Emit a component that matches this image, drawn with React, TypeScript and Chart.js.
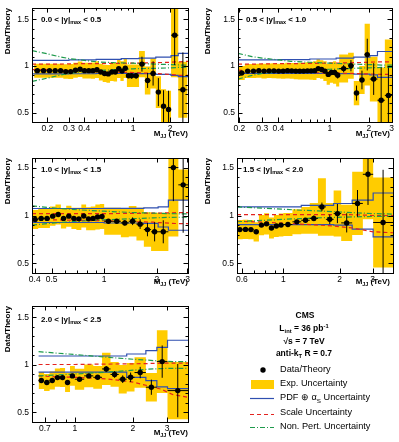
import React, { useEffect, useRef } from 'react';
import { Chart, registerables } from 'chart.js';
Chart.register(...registerables);

const FONT = "'Liberation Sans', Arial, Helvetica, sans-serif";
const YELLOW = '#ffcc00';
const BLUE = '#2f4fb0';
const RED = '#e3231f';
const GREEN = '#1e9a4c';

// ---------- shared axis ticks ----------
const yTickValues = [0.4, 0.5, 0.6, 0.7, 0.8, 0.9, 1.0, 1.1, 1.2, 1.3, 1.4, 1.5, 1.6];
const yTickLabels = ['', '0.5', '', '', '', '', '1', '', '', '', '', '1.5', ''];

// rapidity bins
const rapLo = ['0.0', '0.5', '1.0', '1.5', '2.0'];
const rapHi = ['0.5', '1.0', '1.5', '2.0', '2.5'];

// ---------- panel 1 : 0.0 < |y|max < 0.5 ----------
const xTicks1 = [0.2, 0.3, 0.4, 0.5, 0.6, 0.7, 0.8, 0.9, 1, 2];
const xLabels1 = ['0.2', '0.3', '0.4', '', '', '', '', '', '1', '2'];
const edges1 = [0.156, 0.176, 0.197, 0.22, 0.244, 0.27, 0.296, 0.325, 0.354, 0.386, 0.419, 0.453, 0.489, 0.526, 0.565, 0.606, 0.649, 0.693, 0.74, 0.788, 0.838, 0.89, 0.944, 1.0, 1.118, 1.246, 1.383, 1.53, 1.687, 1.856, 2.037, 2.332, 2.775];
const ratio1 = [0.95, 0.95, 0.95, 0.95, 0.95, 0.94, 0.94, 0.955, 0.965, 0.95, 0.95, 0.95, 0.96, 0.935, 0.92, 0.915, 0.935, 0.935, 0.97, 0.945, 0.975, 0.895, 0.895, 0.895, 1.02, 0.845, 0.92, 0.72, 0.57, 0.535, 1.33, 0.745];
const stat1 = [0.004, 0.004, 0.004, 0.004, 0.004, 0.005, 0.005, 0.005, 0.006, 0.006, 0.007, 0.007, 0.008, 0.009, 0.01, 0.011, 0.012, 0.014, 0.016, 0.018, 0.02, 0.025, 0.03, 0.03, 0.08, 0.08, 0.13, 0.15, 0.17, 0.2, 0.32, 0.4];
const exp1 = [0.075, 0.075, 0.075, 0.075, 0.075, 0.078, 0.08, 0.08, 0.082, 0.085, 0.085, 0.088, 0.09, 0.09, 0.092, 0.095, 0.095, 0.1, 0.1, 0.105, 0.105, 0.12, 0.12, 0.12, 0.14, 0.15, 0.16, 0.17, 0.18, 0.2, 0.45, 0.3];
const pdfX1 = [0.15, 0.3, 0.5, 0.8, 1.118, 1.53, 2.037, 2.332, 2.8];
const pdfUp1 = [1.06, 1.065, 1.07, 1.078, 1.085, 1.095, 1.11, 1.135, 1.135];
const pdfLo1 = [0.915, 0.917, 0.92, 0.92, 0.918, 0.91, 0.9, 0.885, 0.885];
const thX1 = [0.15, 0.2, 0.25, 0.3, 0.4, 0.5, 0.7, 1.0, 1.5, 2.0, 2.4, 2.8];
const scUp1 = [1.02, 1.02, 1.02, 1.022, 1.025, 1.025, 1.028, 1.03, 1.035, 1.04, 1.045, 1.05];
const scLo1 = [0.96, 0.96, 0.955, 0.95, 0.945, 0.94, 0.935, 0.93, 0.92, 0.91, 0.9, 0.9];
const npUp1 = [1.165, 1.13, 1.1, 1.08, 1.06, 1.045, 1.035, 1.03, 1.02, 1.015, 1.01, 1.008];
const npLo1 = [0.835, 0.87, 0.9, 0.92, 0.94, 0.95, 0.96, 0.97, 0.975, 0.98, 0.985, 0.988];

// ---------- panel 2 : 0.5 < |y|max < 1.0 ----------
const xTicks2 = [0.2, 0.3, 0.4, 0.5, 0.6, 0.7, 0.8, 0.9, 1, 2, 3];
const xLabels2 = ['0.2', '0.3', '0.4', '', '', '', '', '', '1', '2', '3'];
const edges2 = [0.197, 0.22, 0.244, 0.27, 0.296, 0.325, 0.354, 0.386, 0.419, 0.453, 0.489, 0.526, 0.565, 0.606, 0.649, 0.693, 0.74, 0.788, 0.838, 0.89, 0.944, 1.0, 1.058, 1.118, 1.181, 1.383, 1.53, 1.687, 1.856, 2.037, 2.332, 2.659, 3.019];
const ratio2 = [0.925, 0.945, 0.945, 0.95, 0.945, 0.948, 0.948, 0.945, 0.945, 0.95, 0.948, 0.945, 0.945, 0.945, 0.948, 0.948, 0.95, 0.972, 0.962, 0.945, 0.91, 0.93, 0.93, 0.9, 0.972, 1.003, 0.71, 0.85, 1.122, 0.86, 0.633, 0.685];
const stat2 = [0.004, 0.004, 0.004, 0.004, 0.005, 0.005, 0.005, 0.006, 0.006, 0.007, 0.007, 0.008, 0.009, 0.01, 0.011, 0.012, 0.014, 0.016, 0.018, 0.02, 0.022, 0.025, 0.03, 0.035, 0.04, 0.06, 0.08, 0.1, 0.17, 0.17, 0.35, 0.3];
const exp2 = [0.075, 0.075, 0.075, 0.075, 0.078, 0.078, 0.08, 0.08, 0.082, 0.085, 0.085, 0.088, 0.09, 0.09, 0.092, 0.095, 0.1, 0.1, 0.1, 0.105, 0.11, 0.11, 0.12, 0.12, 0.15, 0.14, 0.13, 0.15, 0.33, 0.24, 0.35, 0.6];
const pdfX2 = [0.195, 0.4, 0.7, 1.118, 1.53, 2.037, 2.332, 3.02];
const pdfUp2 = [1.065, 1.068, 1.075, 1.085, 1.095, 1.11, 1.155, 1.155];
const pdfLo2 = [0.92, 0.92, 0.92, 0.918, 0.912, 0.905, 0.878, 0.878];
const thX2 = [0.195, 0.25, 0.3, 0.4, 0.5, 0.7, 1.0, 1.5, 2.0, 2.5, 3.02];
const scUp2 = [1.02, 1.02, 1.022, 1.025, 1.025, 1.028, 1.03, 1.035, 1.04, 1.045, 1.045];
const scLo2 = [0.955, 0.95, 0.945, 0.94, 0.935, 0.93, 0.925, 0.92, 0.915, 0.91, 0.91];
const npUp2 = [1.135, 1.1, 1.085, 1.065, 1.05, 1.04, 1.03, 1.02, 1.015, 1.01, 1.01];
const npLo2 = [0.86, 0.9, 0.92, 0.935, 0.945, 0.955, 0.965, 0.975, 0.98, 0.985, 0.985];

// ---------- panel 3 : 1.0 < |y|max < 1.5 ----------
const xTicks3 = [0.4, 0.5, 0.6, 0.7, 0.8, 0.9, 1, 2, 3];
const xLabels3 = ['0.4', '0.5', '', '', '', '', '1', '2', '3'];
const edges3 = [0.386, 0.419, 0.453, 0.489, 0.526, 0.565, 0.606, 0.649, 0.693, 0.74, 0.788, 0.838, 0.89, 0.944, 1.0, 1.118, 1.246, 1.383, 1.53, 1.687, 1.856, 2.037, 2.332, 2.659, 3.019];
const ratio3 = [0.958, 0.97, 0.97, 0.993, 1.01, 0.97, 0.993, 0.97, 0.965, 0.995, 0.965, 0.97, 0.984, 0.99, 0.94, 0.94, 0.923, 0.94, 0.91, 0.853, 0.83, 0.83, 1.5, 1.32];
const stat3 = [0.005, 0.005, 0.006, 0.006, 0.007, 0.007, 0.008, 0.009, 0.01, 0.011, 0.012, 0.014, 0.016, 0.018, 0.015, 0.02, 0.03, 0.04, 0.05, 0.07, 0.1, 0.12, 0.35, 0.5];
const exp3 = [0.1, 0.1, 0.1, 0.1, 0.105, 0.105, 0.11, 0.11, 0.115, 0.12, 0.12, 0.125, 0.13, 0.13, 0.14, 0.14, 0.15, 0.16, 0.17, 0.18, 0.2, 0.2, 0.72, 0.16];
const pdfX3 = [0.386, 1.0, 1.687, 2.037, 2.332, 2.659, 3.02];
const pdfUp3 = [1.073, 1.075, 1.08, 1.09, 1.16, 1.16, 1.16];
const pdfLo3 = [0.927, 0.922, 0.917, 0.88, 0.846, 0.846, 0.846];
const thX3 = [0.386, 0.5, 0.7, 1.0, 1.5, 1.9, 2.1, 2.35, 2.66, 3.02];
const scUp3 = [1.02, 1.02, 1.02, 1.02, 1.022, 1.025, 1.025, 1.028, 1.03, 1.03];
const scLo3 = [0.96, 0.955, 0.95, 0.945, 0.935, 0.93, 0.925, 0.92, 0.915, 0.915];
const npUp3 = [1.1, 1.08, 1.06, 1.045, 1.03, 1.025, 1.022, 1.02, 1.018, 1.018];
const npLo3 = [0.9, 0.92, 0.94, 0.955, 0.968, 0.975, 0.978, 0.98, 0.982, 0.982];

// ---------- panel 4 : 1.5 < |y|max < 2.0 ----------
const xTicks4 = [0.6, 0.7, 0.8, 0.9, 1, 2, 3];
const xLabels4 = ['0.6', '', '', '', '1', '2', '3'];
const edges4 = [0.565, 0.606, 0.649, 0.693, 0.74, 0.788, 0.838, 0.89, 0.944, 1.0, 1.118, 1.246, 1.383, 1.53, 1.687, 1.856, 2.037, 2.332, 2.659, 3.019, 3.854];
const ratio4 = [0.853, 0.855, 0.853, 0.83, 0.9, 0.913, 0.87, 0.89, 0.9, 0.906, 0.934, 0.95, 0.97, 1.09, 0.96, 1.02, 0.923, 1.126, 1.43, 0.927];
const stat4 = [0.008, 0.008, 0.009, 0.01, 0.011, 0.012, 0.013, 0.014, 0.016, 0.014, 0.018, 0.022, 0.03, 0.045, 0.05, 0.1, 0.1, 0.14, 0.32, 0.55];
const exp4 = [0.1, 0.1, 0.1, 0.1, 0.105, 0.11, 0.11, 0.115, 0.12, 0.12, 0.13, 0.14, 0.16, 0.3, 0.17, 0.24, 0.19, 0.33, 0.47, 0.47];
const pdfX4 = [0.565, 1.246, 1.856, 2.332, 3.019, 3.854];
const pdfUp4 = [1.09, 1.105, 1.125, 1.16, 1.235, 1.235];
const pdfLo4 = [0.905, 0.905, 0.9, 0.857, 0.776, 0.776];
const thX4 = [0.565, 0.8, 1.0, 1.246, 1.53, 1.856, 2.332, 2.659, 3.019, 3.854];
const scUp4 = [1.01, 1.01, 1.01, 1.01, 1.01, 1.01, 1.008, 1.005, 1.0, 1.0];
const scLo4 = [0.94, 0.93, 0.92, 0.91, 0.9, 0.89, 0.87, 0.85, 0.83, 0.82];
const npUp4 = [1.09, 1.075, 1.065, 1.055, 1.048, 1.04, 1.03, 1.025, 1.02, 1.015];
const npLo4 = [0.935, 0.95, 0.96, 0.968, 0.975, 0.98, 0.985, 0.988, 0.99, 0.99];

// ---------- panel 5 : 2.0 < |y|max < 2.5 ----------
const xTicks5 = [0.7, 0.8, 0.9, 1, 2, 3];
const xLabels5 = ['0.7', '', '', '1', '2', '3'];
const edges5 = [0.649, 0.693, 0.74, 0.788, 0.838, 0.89, 0.944, 1.0, 1.118, 1.246, 1.383, 1.53, 1.687, 1.856, 2.037, 2.332, 2.659, 3.019, 3.854];
const ratio5 = [0.836, 0.815, 0.836, 0.867, 0.867, 0.815, 0.885, 0.85, 0.885, 0.87, 0.958, 0.9, 0.85, 0.87, 0.92, 0.766, 1.035, 0.73];
const stat5 = [0.01, 0.01, 0.011, 0.012, 0.013, 0.014, 0.015, 0.014, 0.017, 0.02, 0.03, 0.035, 0.04, 0.05, 0.06, 0.08, 0.17, 0.28];
const exp5 = [0.09, 0.09, 0.095, 0.095, 0.1, 0.1, 0.105, 0.11, 0.12, 0.12, 0.17, 0.13, 0.15, 0.15, 0.16, 0.15, 0.33, 0.3];
const pdfX5 = [0.649, 1.856, 2.332, 2.659, 3.019, 3.854];
const pdfUp5 = [1.094, 1.115, 1.15, 1.185, 1.26, 1.26];
const pdfLo5 = [0.925, 0.87, 0.836, 0.77, 0.75, 0.75];
const thX5 = [0.649, 0.8, 1.0, 1.3, 1.6, 2.0, 2.4, 2.8, 3.2, 3.854];
const scUp5 = [1.005, 1.005, 1.005, 1.008, 1.01, 1.012, 1.015, 1.018, 1.02, 1.02];
const scLo5 = [0.885, 0.875, 0.87, 0.86, 0.845, 0.82, 0.78, 0.745, 0.69, 0.66];
const npUp5 = [1.14, 1.125, 1.11, 1.09, 1.075, 1.06, 1.05, 1.04, 1.035, 1.035];
const npLo5 = [0.885, 0.895, 0.905, 0.918, 0.93, 0.945, 0.955, 0.962, 0.965, 0.965];

// legend texts
const legendLabels = ['Data/Theory', 'Exp. Uncertainty', 'PDF', 'Scale Uncertainty', 'Non. Pert. Uncertainty'];

type Panel = {
  x: number; y: number; w: number; h: number;
  plot: { l: number; r: number; t: number; b: number };
  xMin: number; xMax: number; yMin: number; yMax: number;
  xTicks: number[]; xLabels: string[];
  edges: number[]; ratio: number[]; stat: number[]; exp: number[];
  pdfX: number[]; pdfUp: number[]; pdfLo: number[];
  thX: number[]; scUp: number[]; scLo: number[]; npUp: number[]; npLo: number[];
  idx: number; labelX: number; labelY: number; titleRight: number; titleY: number;
};

const panels: Panel[] = [
  { x: 0, y: 0, w: 200, h: 145, plot: { l: 32, r: 188, t: 7, b: 122 }, xMin: 0.15, xMax: 2.8, yMin: 0.4, yMax: 1.62,
    xTicks: xTicks1, xLabels: xLabels1, edges: edges1, ratio: ratio1, stat: stat1, exp: exp1,
    pdfX: pdfX1, pdfUp: pdfUp1, pdfLo: pdfLo1, thX: thX1, scUp: scUp1, scLo: scLo1, npUp: npUp1, npLo: npLo1,
    idx: 0, labelX: 41, labelY: 20, titleRight: 188, titleY: 134 },
  { x: 200, y: 0, w: 199, h: 145, plot: { l: 38, r: 192, t: 7, b: 122 }, xMin: 0.195, xMax: 3.02, yMin: 0.4, yMax: 1.62,
    xTicks: xTicks2, xLabels: xLabels2, edges: edges2, ratio: ratio2, stat: stat2, exp: exp2,
    pdfX: pdfX2, pdfUp: pdfUp2, pdfLo: pdfLo2, thX: thX2, scUp: scUp2, scLo: scLo2, npUp: npUp2, npLo: npLo2,
    idx: 1, labelX: 246, labelY: 20, titleRight: 390, titleY: 134 },
  { x: 0, y: 145, w: 200, h: 145, plot: { l: 32, r: 188, t: 13, b: 128 }, xMin: 0.386, xMax: 3.02, yMin: 0.4, yMax: 1.6,
    xTicks: xTicks3, xLabels: xLabels3, edges: edges3, ratio: ratio3, stat: stat3, exp: exp3,
    pdfX: pdfX3, pdfUp: pdfUp3, pdfLo: pdfLo3, thX: thX3, scUp: scUp3, scLo: scLo3, npUp: npUp3, npLo: npLo3,
    idx: 2, labelX: 41, labelY: 170, titleRight: 188, titleY: 282 },
  { x: 200, y: 145, w: 199, h: 145, plot: { l: 37, r: 193, t: 13, b: 128 }, xMin: 0.565, xMax: 3.854, yMin: 0.4, yMax: 1.6,
    xTicks: xTicks4, xLabels: xLabels4, edges: edges4, ratio: ratio4, stat: stat4, exp: exp4,
    pdfX: pdfX4, pdfUp: pdfUp4, pdfLo: pdfLo4, thX: thX4, scUp: scUp4, scLo: scLo4, npUp: npUp4, npLo: npLo4,
    idx: 3, labelX: 243, labelY: 170, titleRight: 390, titleY: 282 },
  { x: 0, y: 290, w: 200, h: 152, plot: { l: 32, r: 188, t: 16, b: 132 }, xMin: 0.649, xMax: 3.854, yMin: 0.4, yMax: 1.62,
    xTicks: xTicks5, xLabels: xLabels5, edges: edges5, ratio: ratio5, stat: stat5, exp: exp5,
    pdfX: pdfX5, pdfUp: pdfUp5, pdfLo: pdfLo5, thX: thX5, scUp: scUp5, scLo: scLo5, npUp: npUp5, npLo: npLo5,
    idx: 4, labelX: 41, labelY: 320, titleRight: 188, titleY: 433 },
];

const framePlugin = {
  id: 'rootFrame',
  afterDatasetsDraw(chart: any) {
    const { ctx, chartArea: a, scales } = chart;
    const xs = scales.x, ys = scales.y;
    ctx.save();
    ctx.strokeStyle = '#000';
    ctx.lineWidth = 1;
    ctx.beginPath();
    xs.ticks.forEach((t: any) => {
      const px = Math.round(xs.getPixelForValue(t.value)) + 0.5;
      const len = t.label ? 4.5 : 2.5;
      ctx.moveTo(px, a.bottom); ctx.lineTo(px, a.bottom - len);
      ctx.moveTo(px, a.top); ctx.lineTo(px, a.top + len);
    });
    ys.ticks.forEach((t: any) => {
      const py = Math.round(ys.getPixelForValue(t.value)) + 0.5;
      const len = t.label ? 4.5 : 2.5;
      ctx.moveTo(a.left, py); ctx.lineTo(a.left + len, py);
      ctx.moveTo(a.right, py); ctx.lineTo(a.right - len, py);
    });
    ctx.stroke();
    ctx.strokeRect(Math.round(a.left) + 0.5, Math.round(a.top) + 0.5, Math.round(a.right - a.left), Math.round(a.bottom - a.top));
    ctx.restore();
  },
};

function buildDatasets(p: Panel) {
  const n = p.ratio.length;
  const bandUp: any[] = [];
  const bandLo: any[] = [];
  const pts: any[] = [];
  const bars: any[] = [];
  for (let i = 0; i < n; i++) {
    bandUp.push({ x: p.edges[i], y: p.ratio[i] + p.exp[i] });
    bandLo.push({ x: p.edges[i], y: p.ratio[i] - p.exp[i] });
    const c = Math.sqrt(p.edges[i] * p.edges[i + 1]);
    pts.push({ x: c, y: p.ratio[i] });
    bars.push({ x: c, y: p.ratio[i] - p.stat[i] }, { x: c, y: p.ratio[i] + p.stat[i] }, { x: c, y: null });
    bars.push({ x: p.edges[i], y: p.ratio[i] }, { x: p.edges[i + 1], y: p.ratio[i] }, { x: p.edges[i + 1], y: null });
  }
  bandUp.push({ x: p.edges[n], y: p.ratio[n - 1] + p.exp[n - 1] });
  bandLo.push({ x: p.edges[n], y: p.ratio[n - 1] - p.exp[n - 1] });
  const line = (xs: number[], ys: number[]) => xs.map((x, i) => ({ x, y: ys[i] }));
  const common = { pointRadius: 0, borderWidth: 1.2, fill: false };
  return [
    { label: 'Exp. Uncertainty', data: bandUp, stepped: true, fill: '+1', backgroundColor: YELLOW, borderWidth: 0, borderColor: YELLOW, pointRadius: 0, order: 10 },
    { label: 'Exp. low', data: bandLo, stepped: true, fill: false, borderWidth: 0, borderColor: YELLOW, pointRadius: 0, order: 10 },
    { label: 'PDF up', data: line(p.pdfX, p.pdfUp), stepped: true, borderColor: BLUE, ...common, order: 5 },
    { label: 'PDF low', data: line(p.pdfX, p.pdfLo), stepped: true, borderColor: BLUE, ...common, order: 5 },
    { label: 'Scale up', data: line(p.thX, p.scUp), borderColor: RED, borderDash: [4, 3], ...common, order: 4 },
    { label: 'Scale low', data: line(p.thX, p.scLo), borderColor: RED, borderDash: [4, 3], ...common, order: 4 },
    { label: 'NP up', data: line(p.thX, p.npUp), borderColor: GREEN, borderDash: [5, 2, 1, 2], ...common, order: 3 },
    { label: 'NP low', data: line(p.thX, p.npLo), borderColor: GREEN, borderDash: [5, 2, 1, 2], ...common, order: 3 },
    { label: 'errors', data: bars, borderColor: '#000', borderWidth: 1, pointRadius: 0, fill: false, spanGaps: false, order: 2 },
    { label: 'Data/Theory', data: pts, showLine: false, pointRadius: 2.7, pointBackgroundColor: '#000', pointBorderWidth: 0, order: 1 },
  ];
}

function PanelChart({ p }: { p: Panel }) {
  const ref = useRef<HTMLCanvasElement>(null);
  useEffect(() => {
    const chart = new Chart(ref.current as HTMLCanvasElement, {
      type: 'line',
      data: { datasets: buildDatasets(p) as any },
      options: {
        responsive: false,
        animation: false,
        events: [],
        layout: { padding: { left: 0, top: p.plot.t, right: p.w - p.plot.r, bottom: 0 } },
        plugins: { legend: { display: false }, tooltip: { enabled: false } },
        scales: {
          x: {
            type: 'logarithmic', min: p.xMin, max: p.xMax,
            grid: { display: false, drawTicks: false }, border: { display: false },
            afterBuildTicks: (s: any) => { s.ticks = p.xTicks.map((v) => ({ value: v })); },
            afterFit: (s: any) => { s.height = p.h - p.plot.b; },
            ticks: {
              autoSkip: false, maxRotation: 0, minRotation: 0, padding: 2, color: '#000',
              font: { family: FONT, size: 8.5 },
              callback: (_v: any, i: number) => p.xLabels[i],
            },
          },
          y: {
            type: 'linear', min: p.yMin, max: p.yMax,
            grid: { display: false, drawTicks: false }, border: { display: false },
            afterBuildTicks: (s: any) => { s.ticks = yTickValues.map((v) => ({ value: v })); },
            afterFit: (s: any) => { s.width = p.plot.l; },
            ticks: {
              autoSkip: false, padding: 3, color: '#000',
              font: { family: FONT, size: 8.5 },
              callback: (_v: any, i: number) => yTickLabels[i],
            },
            title: {
              display: true, text: 'Data/Theory', align: 'end', color: '#000',
              font: { family: FONT, size: 8, weight: 'bold' }, padding: { top: 3, bottom: 0 },
            },
          },
        },
      } as any,
      plugins: [framePlugin],
    });
    return () => chart.destroy();
  }, [p]);
  return (
    <canvas ref={ref} width={p.w} height={p.h}
      style={{ position: 'absolute', left: p.x, top: p.y, width: p.w, height: p.h }} />
  );
}

const subStyle: React.CSSProperties = { fontSize: '0.68em', position: 'relative', top: '0.35em' };
const supStyle: React.CSSProperties = { fontSize: '0.68em', position: 'relative', top: '-0.4em' };

function Txt(props: { x: number; y: number; size: number; bold?: boolean; align?: 'left' | 'right' | 'center'; children: any }) {
  const { x, y, size, bold, align = 'left', children } = props;
  const style: React.CSSProperties = {
    position: 'absolute', top: y - size / 2, lineHeight: `${size}px`, fontSize: size,
    fontFamily: FONT, fontWeight: bold ? 'bold' : 'normal', whiteSpace: 'nowrap', color: '#000',
  };
  if (align === 'right') style.right = 399 - x;
  else if (align === 'center') { style.left = x; style.transform = 'translateX(-50%)'; }
  else style.left = x;
  return <div style={style}>{children}</div>;
}

export default function App() {
  return (
    <div style={{ position: 'absolute', left: 0, top: 0, width: 399, height: 442, background: '#fff', overflow: 'hidden' }}>
      {panels.map((p) => <PanelChart key={p.idx} p={p} />)}
      {panels.map((p) => (
        <React.Fragment key={'t' + p.idx}>
          <Txt x={p.labelX} y={p.labelY} size={8} bold>
            {rapLo[p.idx]} &lt; |y|<span style={subStyle}>max</span> &lt; {rapHi[p.idx]}
          </Txt>
          <Txt x={p.titleRight} y={p.titleY} size={8} bold align="right">
            M<span style={subStyle}>JJ</span> (TeV)
          </Txt>
        </React.Fragment>
      ))}
      {/* CMS info */}
      <Txt x={305} y={315} size={8.5} bold align="center">CMS</Txt>
      <Txt x={304} y={328} size={8.5} bold align="center">L<span style={subStyle}>int</span> = 36 pb<span style={supStyle}>-1</span></Txt>
      <Txt x={304} y={341} size={8.5} bold align="center">√s = 7 TeV</Txt>
      <Txt x={304} y={353} size={8.5} bold align="center">anti-k<span style={subStyle}>T</span> R = 0.7</Txt>
      {/* legend */}
      <svg width={399} height={442} style={{ position: 'absolute', left: 0, top: 0 }}>
        <circle cx={263} cy={370} r={2.7} fill="#000" />
        <rect x={251} y={380} width={23} height={9} fill={YELLOW} />
        <line x1={250} y1={398.5} x2={274} y2={398.5} stroke={BLUE} strokeWidth={1.2} />
        <line x1={250} y1={414.5} x2={274} y2={414.5} stroke={RED} strokeWidth={1.2} strokeDasharray="4 3" />
        <line x1={250} y1={427.5} x2={274} y2={427.5} stroke={GREEN} strokeWidth={1.2} strokeDasharray="5 2 1 2" />
      </svg>
      <Txt x={280} y={370} size={9.2}>{legendLabels[0]}</Txt>
      <Txt x={280} y={384} size={9.2}>{legendLabels[1]}</Txt>
      <Txt x={280} y={398} size={9.2}>{legendLabels[2]} ⊕ α<span style={subStyle}>S</span> Uncertainty</Txt>
      <Txt x={280} y={413} size={9.2}>{legendLabels[3]}</Txt>
      <Txt x={280} y={427} size={9.2}>{legendLabels[4]}</Txt>
    </div>
  );
}
